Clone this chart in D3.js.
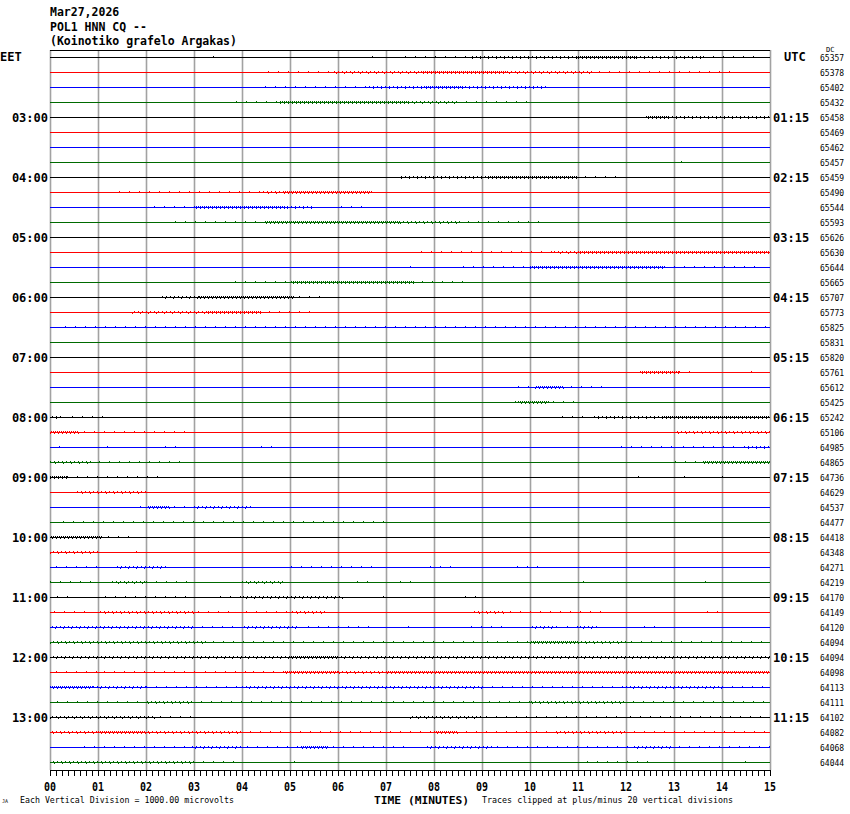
<!DOCTYPE html>
<html>
<head>
<meta charset="utf-8">
<script src="https://cdn.jsdelivr.net/npm/d3@7"></script>
<style>
  body { margin: 0; background: #fff; }
  svg { display: block; }
  text { font-family: "DejaVu Sans Mono", "Liberation Mono", monospace; font-weight: bold; fill: #000; }
</style>
</head>
<body>
<svg id="heli" width="850" height="814"></svg>
<script>
// header text
var titleLines = ["Mar27,2026", "POL1 HNN CQ --", "(Koinotiko grafelo Argakas)"];

// hour labels, placed every 4th trace (one hour = 4 x 15 min traces)
var labelRows = [4, 8, 12, 16, 20, 24, 28, 32, 36, 40, 44];
var eetLabels = ["03:00", "04:00", "05:00", "06:00", "07:00", "08:00", "09:00", "10:00", "11:00", "12:00", "13:00"];
var utcLabels = ["01:15", "02:15", "03:15", "04:15", "05:15", "06:15", "07:15", "08:15", "09:15", "10:15", "11:15"];

var minuteLabels = ["00","01","02","03","04","05","06","07","08","09","10","11","12","13","14","15"];

// DC offset of every trace, top to bottom
var dcValues = [65357, 65378, 65402, 65432, 65458, 65469, 65462, 65457,
                65459, 65490, 65544, 65593, 65626, 65630, 65644, 65665,
                65707, 65773, 65825, 65831, 65820, 65761, 65612, 65425,
                65242, 65106, 64985, 64865, 64736, 64629, 64537, 64477,
                64418, 64348, 64271, 64219, 64170, 64149, 64120, 64094,
                64094, 64098, 64113, 64111, 64102, 64082, 64068, 64044];

var traceColors = ["#000000", "#ff0000", "#0000ff", "#006a00"];

// noisy stretches: [start minute, end minute, level 1..3]
var activity = [
  [[3.4,3.45,1],[6.7,6.75,1],[7.4,8.8,1],[8.8,11.0,2],[11.0,12.2,3],[12.2,13.6,2],[13.6,14.7,1]],
  [[4.4,5.9,1],[5.9,7.7,2],[7.7,9.5,3],[9.5,11.3,2],[11.3,14.2,1]],
  [[2.0,2.05,1],[4.4,6.6,1],[6.6,7.8,2],[7.8,8.6,3],[8.6,10.4,2]],
  [[3.7,4.8,1],[4.8,7.5,3],[7.5,8.5,2],[8.5,10.0,1]],
  [[8.4,8.45,1],[9.9,9.95,1],[12.4,12.9,3],[12.9,15,2]],
  [],
  [],
  [[13.15,13.2,1]],
  [[6.4,6.45,1],[7.0,7.05,1],[7.3,9.1,2],[9.1,11.0,3],[11.0,11.9,1]],
  [[1.35,4.4,1],[4.4,4.9,2],[4.9,6.7,3],[7.1,7.15,1]],
  [[2.0,3.0,1],[3.0,4.9,3],[4.9,5.5,2],[5.9,6.6,1]],
  [[2.5,4.5,1],[4.5,7.3,3],[7.3,8.6,2],[8.6,10.25,1]],
  [[5.7,5.75,1],[6.2,6.25,1],[7.0,7.1,1],[8.0,8.05,1],[8.6,8.65,1],[9.1,9.15,1],[11.6,11.65,1],[11.9,11.95,1]],
  [[5.7,5.75,1],[7.6,10.5,1],[10.5,11.0,2],[11.0,15,3]],
  [[7.5,7.55,1],[8.6,10.0,1],[10.0,12.8,3],[12.8,14.8,1]],
  [[2.1,2.15,1],[3.7,5.0,1],[5.0,7.6,3],[7.6,8.8,1]],
  [[1.5,1.55,1],[2.3,3.1,2],[3.1,5.1,3],[5.1,5.8,1],[6.75,6.8,1]],
  [[1.05,1.1,1],[1.7,3.3,2],[3.3,4.4,3],[4.4,5.5,1]],
  [[0.2,15,1]],
  [[0.7,0.72,1],[1.65,1.75,1],[4.3,4.35,1]],
  [[0.2,0.25,1]],
  [[12.3,13.1,3],[13.1,13.4,1],[14.6,14.65,1]],
  [[0,0.05,1],[0.6,0.65,1],[9.6,10.1,1],[10.1,10.7,3],[10.7,11.6,1]],
  [[9.6,9.75,1],[9.75,10.4,3],[10.4,10.95,1]],
  [[0,0.3,2],[0.3,1.1,1],[10.5,11.3,1],[11.3,12.8,2],[12.8,15,3]],
  [[0,0.6,3],[0.6,2.85,1],[7.6,7.65,1],[12.25,12.3,1],[13.0,15,2]],
  [[0,0.3,1],[1.0,1.4,1],[2.2,2.8,1],[4.2,4.7,1],[11.7,13.0,1],[13.0,14.4,1],[14.4,15,2]],
  [[0,0.9,2],[0.9,2.75,1],[11.2,11.25,1],[12.9,13.6,1],[13.6,15,3]],
  [[0,0.35,3],[0.35,2.4,1],[12.25,12.3,1],[13.2,13.25,1],[14.0,14.05,1]],
  [[0.55,2.0,2],[2.8,2.85,1],[13.0,13.05,1]],
  [[1.8,2.05,1],[2.05,2.5,3],[2.5,3.05,1],[3.05,4.2,2],[4.9,4.95,1]],
  [[0.1,7.0,1]],
  [[0,1.1,3],[1.1,1.75,1],[5.9,5.95,1]],
  [[0,1.0,2],[1.6,1.9,1],[2.5,2.55,1],[3.2,3.25,1],[4.0,4.05,1],[5.1,5.15,1],[9.5,9.55,1],[14.75,14.8,1]],
  [[0,1.0,1],[1.4,2.45,2],[3.3,3.35,1],[4.9,6.7,1],[7.8,8.5,1],[9.6,10.25,1]],
  [[0,1.0,1],[1.3,2.0,2],[2.0,3.0,1],[4.0,4.9,2],[6.4,6.7,1],[7.3,7.7,1],[11.1,11.15,1],[13.65,13.7,1]],
  [[0,0.5,1],[1.0,3.0,1],[3.4,4.0,1],[4.0,6.1,2],[6.8,7.1,1],[8.5,8.9,1],[10.9,11.0,1],[11.7,11.8,1],[13.3,13.35,1],[14.7,14.8,1]],
  [[0,0.9,1],[1.0,3.0,2],[3.0,3.8,1],[4.0,5.0,1],[5.0,5.8,2],[6.7,6.75,1],[7.8,7.85,1],[8.8,9.5,2],[9.5,11.5,1],[12.7,12.75,1],[13.6,14.0,1],[14.3,14.35,1]],
  [[0,3.0,2],[3.0,4.0,1],[4.0,5.2,2],[5.2,6.7,1],[7.3,7.6,1],[8.0,8.1,1],[8.6,9.5,1],[10.0,10.6,2],[10.6,11.0,1],[11.0,11.4,2],[12.2,12.6,1],[12.9,12.95,1]],
  [[0,3.3,2],[3.3,6.0,1],[6.0,8.9,1],[9.0,10.0,1],[10.0,11.0,3],[11.0,12.0,2],[12.0,15,1]],
  [[0,5.0,2],[5.0,6.0,3],[6.0,15,2]],
  [[0,1.0,1],[1.0,3.1,1],[3.1,4.1,1],[4.1,4.9,1],[4.9,6.0,3],[6.0,7.0,2],[7.0,15,3]],
  [[0,0.9,3],[0.9,2.0,2],[2.0,4.0,1],[4.0,6.0,2],[6.0,9.0,2],[9.0,12.0,1],[12.0,14.0,2],[14.0,15,1]],
  [[0,2.0,1],[2.0,3.0,2],[3.0,7.0,1],[7.0,9.0,1],[9.0,10.0,1],[10.0,12.0,2],[12.0,15,1]],
  [[0,2.2,2],[2.2,3.0,1],[3.1,3.15,1],[4.2,4.25,1],[7.5,9.0,2],[9.0,12.0,1],[12.0,15,1]],
  [[0,1.0,2],[1.0,2.0,3],[2.0,4.0,2],[4.0,8.0,1],[8.0,8.5,3],[8.5,10.5,1],[10.5,12.0,2],[12.0,15,1]],
  [[0.6,2.9,1],[2.9,4.0,2],[4.0,5.2,1],[5.2,5.8,3],[5.8,7.5,1],[7.8,9.2,2],[9.2,12.1,1],[12.1,13.0,2],[13.0,15,1]],
  [[0,2.0,2],[2.0,3.0,2],[3.0,3.9,1],[4.9,5.1,1],[6.7,6.75,1],[8.4,8.45,1],[11.0,12.6,1],[14.3,14.6,1]]
];

var svg = d3.select("#heli");

var x = d3.scaleLinear().domain([0, 15]).range([50, 770]);
var y = d3.scaleLinear().domain([0, dcValues.length - 1]).range([57, 762]);
var plotTop = 50, plotBottom = 770;

// header
svg.selectAll("text.title")
  .data(titleLines)
  .enter().append("text")
    .attr("class", "title")
    .attr("x", 50)
    .attr("y", function(d, i) { return 16 + i * 14.5; })
    .style("font-size", "11.5px")
    .text(function(d) { return d; });

// minute grid
svg.selectAll("line.grid")
  .data(d3.range(0, 16))
  .enter().append("line")
    .attr("class", "grid")
    .attr("x1", function(d) { return Math.round(x(d)) + 0.5; })
    .attr("x2", function(d) { return Math.round(x(d)) + 0.5; })
    .attr("y1", plotTop).attr("y2", plotBottom)
    .attr("stroke", "#a2a2a2")
    .attr("stroke-width", 1.6);

// frame top
svg.append("line")
  .attr("x1", x(0)).attr("x2", x(15))
  .attr("y1", plotTop + 0.5).attr("y2", plotTop + 0.5)
  .attr("stroke", "#000").attr("shape-rendering", "crispEdges");

// traces
var traces = svg.selectAll("g.trace")
  .data(dcValues)
  .enter().append("g")
    .attr("class", "trace");

traces.append("line")
  .attr("x1", x(0)).attr("x2", x(15))
  .attr("y1", function(d, i) { return y(i) + 0.5; })
  .attr("y2", function(d, i) { return y(i) + 0.5; })
  .attr("stroke", function(d, i) { return traceColors[i % 4]; })
  .attr("shape-rendering", "crispEdges");

var dashes = { 1: "1,9", 2: "1,3", 3: "1,1" };
var dashesLow = { 1: "1,17", 2: "1,7", 3: "1,3" };

traces.each(function(d, i) {
  var g = d3.select(this);
  var col = traceColors[i % 4];
  var segs = activity[i];
  // ticks above the baseline
  g.selectAll("line.up")
    .data(segs)
    .enter().append("line")
      .attr("class", "up")
      .attr("x1", function(s) { return x(s[0]); })
      .attr("x2", function(s) { return Math.max(x(s[1]), x(s[0]) + 1); })
      .attr("y1", y(i) - 0.5).attr("y2", y(i) - 0.5)
      .attr("stroke", col)
      .attr("stroke-width", function(s) { return s[2] === 3 ? 2 : 1; })
      .attr("stroke-dasharray", function(s) { return dashes[s[2]]; })
      .attr("stroke-dashoffset", (i * 3) % 7)
      .attr("shape-rendering", "crispEdges");
  // fewer ticks below the baseline
  g.selectAll("line.down")
    .data(segs.filter(function(s) { return s[2] > 1; }))
    .enter().append("line")
      .attr("class", "down")
      .attr("x1", function(s) { return x(s[0]); })
      .attr("x2", function(s) { return x(s[1]); })
      .attr("y1", y(i) + 1.5).attr("y2", y(i) + 1.5)
      .attr("stroke", col)
      .attr("stroke-dasharray", function(s) { return dashesLow[s[2]]; })
      .attr("stroke-dashoffset", (i * 5) % 11)
      .attr("shape-rendering", "crispEdges");
});

// DC values on the right
svg.selectAll("text.dc")
  .data(dcValues)
  .enter().append("text")
    .attr("class", "dc")
    .attr("x", 820)
    .attr("y", function(d, i) { return y(i) + 3.5; })
    .style("font-size", "8px")
    .style("font-weight", "normal")
    .text(function(d) { return d; });

svg.append("text")
  .attr("x", 826).attr("y", 52)
  .style("font-size", "7px").style("font-weight", "normal")
  .text("DC");

// time zone headers
svg.append("text").attr("x", 0).attr("y", 61).style("font-size", "12px").text("EET");
svg.append("text").attr("x", 784).attr("y", 61).style("font-size", "12px").text("UTC");

// hour labels
svg.selectAll("text.eet")
  .data(labelRows)
  .enter().append("text")
    .attr("class", "eet")
    .attr("x", 48)
    .attr("y", function(r) { return y(r) + 5; })
    .attr("text-anchor", "end")
    .style("font-size", "12px")
    .text(function(r, i) { return eetLabels[i]; });

svg.selectAll("text.utc")
  .data(labelRows)
  .enter().append("text")
    .attr("class", "utc")
    .attr("x", 773)
    .attr("y", function(r) { return y(r) + 5; })
    .style("font-size", "12px")
    .text(function(r, i) { return utcLabels[i]; });

// time axis
var axis = svg.append("g")
  .attr("transform", "translate(0," + plotBottom + ")")
  .call(d3.axisBottom(x)
    .tickValues(d3.range(0, 15.0001, 0.125))
    .tickSize(6)
    .tickSizeOuter(0)
    .tickFormat(""));
axis.select(".domain").attr("stroke", "#000").attr("shape-rendering", "crispEdges");
axis.selectAll(".tick line").attr("stroke", "#000").attr("shape-rendering", "crispEdges");

svg.selectAll("text.minute")
  .data(minuteLabels)
  .enter().append("text")
    .attr("class", "minute")
    .attr("x", function(d, i) { return x(i); })
    .attr("y", 790.5)
    .attr("text-anchor", "middle")
    .attr("textLength", 12)
    .attr("lengthAdjust", "spacingAndGlyphs")
    .style("font-size", "12.5px")
    .text(function(d) { return d; });

svg.append("text")
  .attr("x", 374).attr("y", 804)
  .attr("textLength", 95).attr("lengthAdjust", "spacingAndGlyphs")
  .style("font-size", "11px")
  .text("TIME (MINUTES)");

svg.append("text")
  .attr("x", 20).attr("y", 803)
  .attr("textLength", 214).attr("lengthAdjust", "spacingAndGlyphs")
  .style("font-size", "8px").style("font-weight", "normal")
  .text("Each Vertical Division = 1000.00 microvolts");

svg.append("text")
  .attr("x", 482).attr("y", 803)
  .attr("textLength", 251).attr("lengthAdjust", "spacingAndGlyphs")
  .style("font-size", "8px").style("font-weight", "normal")
  .text("Traces clipped at plus/minus 20 vertical divisions");

svg.append("text")
  .attr("x", 2).attr("y", 803)
  .style("font-size", "5px").style("font-weight", "normal")
  .text("JA");
</script>
</body>
</html>
